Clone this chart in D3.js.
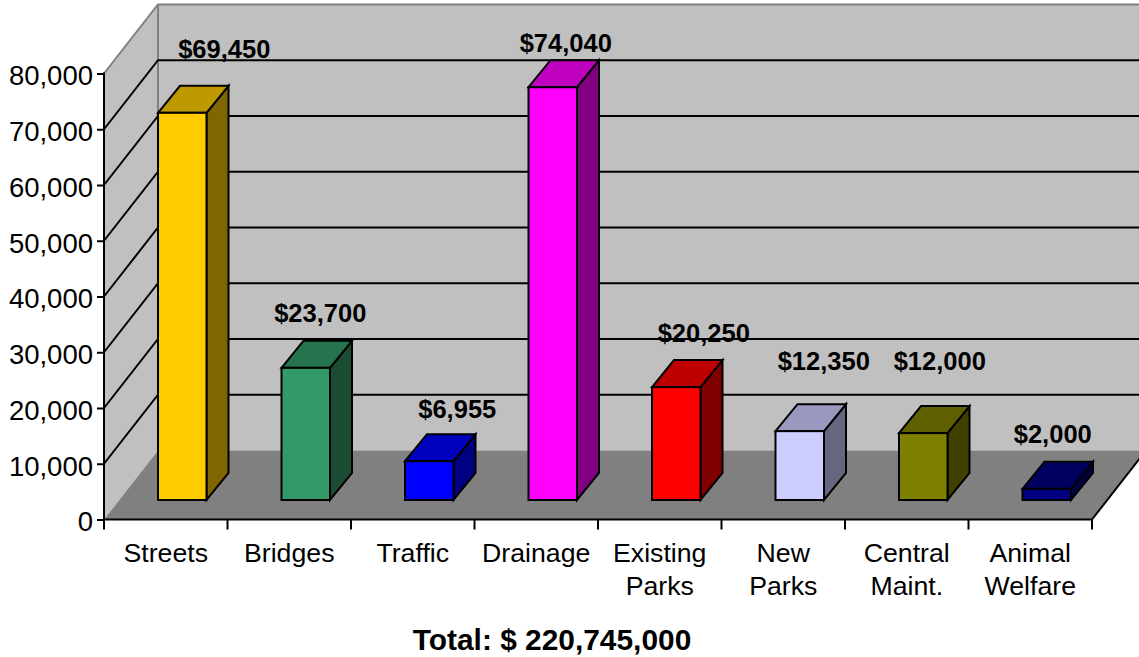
<!DOCTYPE html>
<html><head><meta charset="utf-8">
<script src="https://cdn.jsdelivr.net/npm/d3@7/dist/d3.min.js"></script>
<style>html,body{margin:0;padding:0;background:#fff}svg{display:block}text{font-family:"Liberation Sans",Arial,sans-serif;fill:#000}</style>
</head><body><svg id="c" width="1139" height="657"></svg>
<script>
const categories = ["Streets","Bridges","Traffic","Drainage","Existing Parks","New Parks","Central Maint.","Animal Welfare"];
const values = [69450,23700,6955,74040,20250,12350,12000,2000];
const valueLabels = ["$69,450","$23,700","$6,955","$74,040","$20,250","$12,350","$12,000","$2,000"];
const faceColors = ["#FFCC00","#339966","#0000FF","#FF00FF","#FF0000","#CCCCFF","#808000","#000080"];
const topColors = ["#BF9900","#267350","#0000BF","#BF00BF","#BF0000","#9999BF","#606000","#000060"];
const sideColors = ["#806600","#1A4D33","#000080","#800080","#800000","#666680","#404000","#000040"];
const yTicks = [0,10000,20000,30000,40000,50000,60000,70000,80000];
const labelNudgeX = [42,14.5,28,13,27.5,24,16.5,6];
const labelNudgeY = [-28,-18.5,-16.5,-8,-18.5,-34,-36,-19];
const totalLabel = "Total: $ 220,745,000";

const svg = d3.select("#c");
const x0=104,x1=1092,y0=519.5,y1=73.5;
const dx=54,dy=-69;            // wall depth
const bx=16.5,by=-19.5;        // bar front plane offset
const bdx=22,bdy=-27;          // bar depth
const x = d3.scaleBand().domain(categories).range([x0,x1]);
const y = d3.scaleLinear().domain([0,80000]).range([y0,y1]);
const bw = 48.5;
const pts = a => a.map(p=>p.join(",")).join(" ");

// walls & floor
svg.append("polygon").attr("points",pts([[x0,y1],[x0+dx,y1+dy],[x0+dx,y0+dy],[x0,y0]])).attr("fill","#C0C0C0");
svg.append("polygon").attr("points",pts([[x0+dx,y1+dy],[1139,y1+dy],[1139,y0+dy],[x0+dx,y0+dy]])).attr("fill","#C0C0C0");
svg.append("polygon").attr("points",pts([[x0,y0],[x1,y0],[x1+dx,y0+dy],[x0+dx,y0+dy]])).attr("fill","#808080");
// wall borders
svg.append("polyline").attr("points",pts([[x0,y1],[x0+dx,y1+dy],[1139,y1+dy]])).attr("fill","none").attr("stroke","#808080").attr("stroke-width",2);
svg.append("line").attr("x1",x0+dx).attr("x2",x0+dx).attr("y1",y1+dy).attr("y2",y0+dy).attr("stroke","#808080").attr("stroke-width",2);

// gridlines
yTicks.filter(t=>t>0 && t<80000).forEach(t=>{
  svg.append("polyline").attr("points",pts([[x0,y(t)],[x0+dx,y(t)+dy],[1139,y(t)+dy]]))
    .attr("fill","none").attr("stroke","#000").attr("stroke-width",2);
});

// bars
const bars = svg.selectAll("g.bar").data(categories).join("g").attr("class","bar");
bars.each(function(c,i){
  const g=d3.select(this), L=x(c)+(x.bandwidth()-bw)/2+bx, R=L+bw, B=y(0)+by, T=y(values[i])+by;
  g.append("polygon").attr("points",pts([[R,T],[R+bdx,T+bdy],[R+bdx,B+bdy],[R,B]])).attr("fill",sideColors[i]);
  g.append("polygon").attr("points",pts([[L,T],[L+bdx,T+bdy],[R+bdx,T+bdy],[R,T]])).attr("fill",topColors[i]);
  g.append("rect").attr("x",L).attr("y",T).attr("width",bw).attr("height",B-T).attr("fill",faceColors[i]);
  g.selectAll("polygon,rect").attr("stroke","#000").attr("stroke-width",2).attr("stroke-linejoin","miter");
  g.append("text").attr("x",(L+R)/2+labelNudgeX[i]).attr("y",T+bdy+labelNudgeY[i]).attr("text-anchor","middle")
    .attr("font-size",25.5).attr("font-weight","bold").text(valueLabels[i]);
});

// y axis
const ya = svg.append("g").attr("transform",`translate(${x0},0)`)
  .call(d3.axisLeft(y).tickValues(yTicks).tickFormat(d3.format(",")).tickSize(7).tickPadding(4));
ya.selectAll("path.domain").attr("stroke","#000").attr("stroke-width",2).attr("d",`M0,${y1-1}V${y0+1}`);
ya.selectAll("line").attr("stroke","#000").attr("stroke-width",2);
ya.selectAll("text").attr("font-size",27.5).attr("font-family",'"Liberation Sans"').attr("fill","#000").attr("transform","translate(0,2.5)");

// x axis
const xa = svg.append("g").attr("transform",`translate(0,${y0})`);
xa.append("line").attr("x1",x0).attr("x2",x1).attr("stroke","#000").attr("stroke-width",2);
xa.append("line").attr("x1",x1).attr("x2",x1+dx).attr("y2",dy).attr("stroke","#000").attr("stroke-width",2);
d3.range(categories.length+1).forEach(i=>{
  const px=x0+i*x.step();
  xa.append("line").attr("x1",px).attr("x2",px).attr("y2",10).attr("stroke","#000").attr("stroke-width",2);
});
categories.forEach(c=>{
  const t=xa.append("text").attr("text-anchor","middle").attr("font-size",26.7);
  c.split(" ").forEach((w,j)=>t.append("tspan").attr("x",x(c)+x.bandwidth()/2).attr("y",42+j*33).text(w));
});
svg.append("text").attr("x",552).attr("y",650).attr("text-anchor","middle").attr("font-size",29.9).attr("font-weight","bold").text(totalLabel);
</script></body></html>
